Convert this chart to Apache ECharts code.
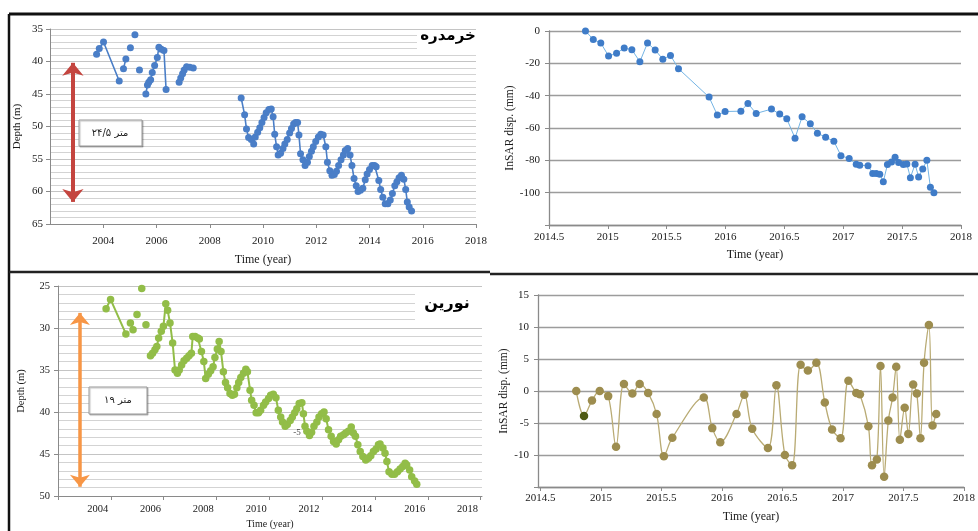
<!DOCTYPE html>
<html><head><meta charset="utf-8">
<script src="https://cdn.jsdelivr.net/npm/echarts@6/dist/echarts.min.js"></script>
<style>html,body{margin:0;padding:0;background:#fff}#c{width:978px;height:531px}</style>
</head><body><div id="c"></div>
<script>
// ---- Khorramdareh well depth (m); null = gap in record
const khTime = [2003.75,2003.85,2004.01,2004.6,null,2004.76,2004.85,null,2005.02,null,2005.19,null,2005.36,null,
 2005.6,2005.66,2005.71,2005.78,2005.84,2005.93,2006.03,2006.09,2006.18,2006.28,2006.36,null,
 2006.85,2006.91,2006.98,2007.04,2007.13,2007.25,2007.38,null,
 2009.18,2009.31,2009.38,2009.46,2009.56,2009.65,2009.71,2009.80,2009.88,2009.96,2010.04,2010.12,2010.22,2010.31,2010.38,
 2010.44,2010.51,2010.57,2010.66,2010.75,2010.82,2010.91,2011.00,2011.07,2011.15,2011.22,2011.30,2011.35,2011.41,2011.50,
 2011.58,2011.67,2011.74,2011.82,2011.89,2011.98,2012.08,2012.17,2012.26,2012.36,2012.42,2012.51,2012.59,2012.68,2012.76,
 2012.84,2012.93,2013.02,2013.09,2013.18,2013.27,2013.34,2013.42,2013.50,2013.57,2013.66,2013.75,2013.84,2013.91,2014.00,
 2014.10,2014.19,2014.25,2014.35,2014.42,2014.50,2014.59,2014.69,2014.78,2014.86,2014.95,2015.03,2015.11,2015.20,2015.29,
 2015.36,2015.42,2015.49,2015.58];
const khDepth = [38.9,38.0,37.0,43.0,null,41.1,39.6,null,37.9,null,35.9,null,41.3,null,
 45.0,43.6,43.2,42.8,41.7,40.6,39.4,37.8,38.1,38.3,44.3,null,
 43.2,42.55,41.9,41.3,40.8,40.9,41.0,null,
 45.6,48.2,50.4,51.7,52.0,52.7,51.6,50.9,50.2,49.4,48.6,47.9,47.4,47.3,48.5,
 51.2,53.1,54.4,54.1,53.4,52.7,52.0,51.0,50.3,49.6,49.4,49.4,51.3,54.2,55.1,
 56.0,55.5,54.6,53.8,53.1,52.3,51.6,51.2,51.3,53.1,55.5,56.8,57.5,57.4,56.9,
 56.0,55.1,54.4,53.7,53.4,54.4,56.0,58.0,59.1,60.0,59.8,59.5,58.2,57.3,56.6,
 56.0,56.0,56.2,58.3,59.7,60.9,61.9,61.9,61.3,60.3,59.1,58.5,57.9,57.5,58.1,
 59.7,61.6,62.4,63.0];

// ---- Khorramdareh InSAR displacement (mm)
const khInsarTime = [2014.81,2014.876,2014.94,2015.006,2015.074,2015.139,2015.204,2015.272,2015.337,2015.402,2015.467,2015.532,2015.60,
 2015.86,2015.93,2015.996,2016.13,2016.19,2016.26,2016.39,2016.46,2016.52,2016.59,2016.65,2016.72,2016.78,2016.85,2016.92,
 2016.98,2017.05,2017.11,2017.14,2017.21,2017.25,2017.28,2017.31,2017.34,2017.375,2017.41,2017.44,2017.47,2017.51,2017.54,
 2017.57,2017.61,2017.64,2017.675,2017.71,2017.74,2017.77];
const khInsar = [0,-5.2,-7.4,-15.5,-13.8,-10.5,-11.6,-19,-7.4,-11.8,-17.4,-15.1,-23.3,
 -40.9,-52,-49.8,-49.6,-44.8,-51,-48.3,-51.4,-54.3,-66.3,-53.1,-57.4,-63.2,-65.7,-68.2,
 -77.1,-78.9,-82.4,-83,-83.3,-88.2,-88.2,-88.6,-93.2,-82.6,-81,-78.1,-81.4,-82.6,-82.2,
 -90.7,-82.4,-90.3,-85.3,-80,-96.7,-100];

// ---- Noorin well depth (m)
const noTime = [2004.32,2004.49,2005.07,null,2005.24,2005.34,null,2005.49,null,2005.67,null,2005.83,null,
 2006.00,2006.08,2006.17,2006.24,2006.31,2006.41,2006.49,2006.58,2006.65,2006.74,2006.84,2006.93,2007.02,2007.09,2007.18,
 2007.27,2007.37,2007.46,2007.55,2007.60,2007.69,2007.79,2007.85,2007.93,2008.02,2008.09,2008.19,2008.28,2008.37,2008.44,
 2008.53,2008.60,2008.67,2008.76,2008.84,2008.92,2009.01,2009.10,2009.18,2009.27,2009.34,2009.42,2009.52,2009.61,2009.67,
 2009.77,2009.83,2009.92,2010.00,2010.09,2010.17,2010.28,2010.36,2010.47,2010.55,2010.65,2010.75,2010.84,2010.93,2011.00,
 2011.10,2011.18,2011.29,2011.37,2011.46,2011.54,2011.63,2011.73,2011.79,2011.85,2011.92,2012.02,2012.10,2012.19,2012.30,
 2012.38,2012.48,2012.57,2012.65,2012.74,2012.84,2012.93,2013.03,2013.12,2013.20,2013.31,2013.39,2013.49,2013.60,2013.68,
 2013.76,2013.85,2013.94,2014.04,2014.15,2014.25,2014.34,2014.44,2014.54,2014.63,2014.69,2014.80,2014.88,2014.95,2015.03,
 2015.14,2015.24,2015.35,2015.45,2015.55,2015.64,2015.70,2015.81,2015.89,2016.00,2016.08];
const noDepth = [27.7,26.6,30.7,null,29.4,30.2,null,28.4,null,25.3,null,29.6,null,
 33.3,33.0,32.6,32.2,31.2,30.4,29.8,27.1,27.9,29.4,31.8,35.0,35.4,35.0,34.4,
 33.9,33.6,33.3,33.0,31.0,31.0,31.2,31.3,32.8,34.0,36.0,35.5,35.1,34.6,33.5,
 32.5,31.6,32.8,35.2,36.5,37.1,37.8,38.0,37.9,37.1,36.5,35.9,35.4,34.9,35.2,
 37.4,38.6,39.2,40.1,40.1,39.8,39.2,38.8,38.4,38.0,37.9,38.3,39.8,40.6,41.2,
 41.7,41.5,41.0,40.6,40.1,39.6,39.0,38.9,40.2,41.7,42.3,42.8,42.4,41.7,41.2,
 40.6,40.2,40.0,40.8,42.1,42.9,43.5,43.8,43.3,42.9,42.7,42.5,42.3,41.8,42.5,
 42.9,43.9,44.7,45.3,45.7,45.5,45.2,44.7,44.4,43.9,43.8,44.3,44.9,45.9,47.1,
 47.4,47.4,47.1,46.8,46.5,46.1,46.3,46.9,47.7,48.2,48.6];

// ---- Noorin InSAR displacement (mm)
const noInsarTime = [2014.796,2014.86,2014.926,2014.99,2015.06,2015.125,2015.19,2015.26,2015.32,2015.39,2015.46,2015.52,2015.59,
 2015.85,2015.92,2015.986,2016.12,2016.185,2016.25,2016.38,2016.45,2016.52,2016.58,2016.65,2016.71,2016.78,2016.85,2016.91,
 2016.98,2017.045,2017.11,2017.14,2017.21,2017.24,2017.28,2017.31,2017.34,2017.375,2017.41,2017.44,2017.47,2017.51,2017.54,
 2017.58,2017.61,2017.64,2017.67,2017.71,2017.74,2017.77];
const noInsar = [0,-3.9,-1.5,0,-0.8,-8.7,1.1,-0.4,1.1,-0.3,-3.6,-10.2,-7.3,
 -1,-5.8,-8,-3.6,-0.6,-5.9,-8.9,0.9,-10,-11.6,4.1,3.2,4.4,-1.8,-6,
 -7.4,1.6,-0.3,-0.5,-5.5,-11.6,-10.7,3.9,-13.4,-4.6,-1,3.8,-7.6,-2.6,-6.7,
 1,-0.4,-7.4,4.4,10.3,-5.4,-3.6];

// ---- axis ticks / labels
const yearTicks = [2004,2006,2008,2010,2012,2014,2016,2018];
const noorinTickPos = [2002.5,2004.5,2006.5,2008.5,2010.5,2012.5,2014.5,2016.5,2018.5];
const insarYearTicks = [2014.5,2015,2015.5,2016,2016.5,2017,2017.5,2018];
const titleKh = 'خرمدره';
const titleNo = 'نورین';
const boxKh = '۲۴/۵ متر';
const boxNo = '۱۹ متر';
const axisTitleDepth = 'Depth (m)';
const axisTitleTime = 'Time (year)';
const axisTitleInsar = 'InSAR disp. (mm)';

function pairs(ts, vs){ return ts.map((t,i)=> (t===null||vs[i]===null) ? ['-','-'] : [t, vs[i]]); }

const SERIF = 'Liberation Serif';
const AX = '#8a8a8a';
const lbl = (size, margin, extra)=>Object.assign({fontFamily:SERIF, fontSize:size, color:'#1a1a1a', margin:margin}, extra||{});
const nm = (size)=>({fontFamily:SERIF, fontSize:size, color:'#1a1a1a'});

const chart = echarts.init(document.getElementById('c'), null, {renderer:'canvas'});
const option = {
  animation:false,
  backgroundColor:'#ffffff',
  grid:[
    {left:50, top:29, width:426, height:195},
    {left:549, top:31, width:412, height:194},
    {left:58, top:286, width:424, height:210},
    {left:538, top:295, width:432, height:192}
  ],
  xAxis:[
    {gridIndex:0, type:'value', min:2002, max:2018, interval:2,
     axisLine:{onZero:false, lineStyle:{color:AX}}, axisTick:{length:4, lineStyle:{color:AX}}, splitLine:{show:false},
     axisLabel:lbl(11,12,{showMinLabel:false, formatter:v=>String(v)}),
     name:axisTitleTime, nameLocation:'middle', nameGap:30, nameTextStyle:nm(12)},
    {gridIndex:1, type:'value', min:2014.5, max:2018, interval:0.5,
     axisLine:{onZero:false, lineStyle:{color:AX, width:1.3}}, axisTick:{length:4, lineStyle:{color:AX}}, splitLine:{show:false},
     axisLabel:lbl(11,7,{formatter:v=>String(v)}),
     name:axisTitleTime, nameLocation:'middle', nameGap:24, nameTextStyle:nm(12)},
    {gridIndex:2, type:'value', min:2002.5, max:2018.55,
     axisLine:{onZero:false, lineStyle:{color:AX}}, axisTick:{length:4, customValues:noorinTickPos, lineStyle:{color:AX}}, splitLine:{show:false},
     axisLabel:lbl(10.5,8,{customValues:yearTicks, formatter:v=>String(v)}),
     name:axisTitleTime, nameLocation:'middle', nameGap:23, nameTextStyle:nm(10)},
    {gridIndex:3, type:'value', min:2014.48, max:2018,
     axisLine:{onZero:false, lineStyle:{color:AX, width:1.3}}, axisTick:{length:4, customValues:insarYearTicks, lineStyle:{color:AX}}, splitLine:{show:false},
     axisLabel:lbl(11,6,{customValues:insarYearTicks, formatter:v=>String(v)}),
     name:axisTitleTime, nameLocation:'middle', nameGap:24, nameTextStyle:nm(12)}
  ],
  yAxis:[
    {gridIndex:0, type:'value', inverse:true, min:35, max:65, interval:5,
     axisLine:{show:true, lineStyle:{color:AX}}, axisTick:{show:true, length:4, lineStyle:{color:AX}},
     splitLine:{show:true, lineStyle:{color:'#c4c4c4'}}, minorTick:{show:false, splitNumber:5},
     minorSplitLine:{show:true, lineStyle:{color:'#d3d3d3'}},
     axisLabel:lbl(11,7),
     name:axisTitleDepth, nameLocation:'middle', nameGap:27, nameRotate:90, nameTextStyle:nm(11)},
    {gridIndex:1, type:'value', min:-120, max:0, interval:20,
     axisLine:{show:true, lineStyle:{color:AX, width:1.3}}, axisTick:{show:true, length:4, lineStyle:{color:AX}},
     splitLine:{show:true, lineStyle:{color:'#9c9c9c', width:1.3}},
     axisLabel:lbl(11,9,{formatter:v=> v===-120 ? '' : String(v)}),
     name:axisTitleInsar, nameLocation:'middle', nameGap:33, nameRotate:90, nameTextStyle:nm(11.5)},
    {gridIndex:2, type:'value', inverse:true, min:25, max:50, interval:5,
     axisLine:{show:true, lineStyle:{color:AX}}, axisTick:{show:true, length:4, lineStyle:{color:AX}},
     splitLine:{show:true, lineStyle:{color:'#c4c4c4'}}, minorTick:{show:false, splitNumber:5},
     minorSplitLine:{show:true, lineStyle:{color:'#d3d3d3'}},
     axisLabel:lbl(10.5,8),
     name:axisTitleDepth, nameLocation:'middle', nameGap:31, nameRotate:90, nameTextStyle:nm(10.5)},
    {gridIndex:3, type:'value', min:-15, max:15, interval:5,
     axisLine:{show:true, lineStyle:{color:AX, width:1.3}}, axisTick:{show:true, length:4, lineStyle:{color:AX}},
     splitLine:{show:true, lineStyle:{color:'#9c9c9c', width:1.3}},
     axisLabel:lbl(11,9,{formatter:v=> v===-15 ? '' : String(v)}),
     name:axisTitleInsar, nameLocation:'middle', nameGap:24, nameRotate:90, nameTextStyle:nm(11.5)}
  ],
  series:[
    {type:'line', xAxisIndex:0, yAxisIndex:0, data:pairs(khTime, khDepth), connectNulls:false,
     symbol:'circle', symbolSize:7, showSymbol:true, color:'#4a7ec7',
     lineStyle:{color:'#4a7ec7', width:1.6}, itemStyle:{color:'#4a7ec7'},
     markLine:{silent:true, symbol:['arrow','arrow'], symbolSize:[16,13], label:{show:false},
       lineStyle:{color:'#c4453f', width:4, type:'solid'},
       data:[[{coord:[2002.86,40.2]},{coord:[2002.86,61.6]}]]}},
    {type:'line', xAxisIndex:1, yAxisIndex:1, data:pairs(khInsarTime, khInsar),
     symbol:'circle', symbolSize:7, showSymbol:true,
     lineStyle:{color:'#74b4e4', width:1}, itemStyle:{color:'#3f7cc8'}},
    {type:'line', xAxisIndex:2, yAxisIndex:2, data:pairs(noTime, noDepth), connectNulls:false,
     symbol:'circle', symbolSize:7.5, showSymbol:true,
     lineStyle:{color:'#92bd48', width:2}, itemStyle:{color:'#92bd48'},
     markLine:{silent:true, symbol:['arrow','arrow'], symbolSize:[15,12], label:{show:false},
       lineStyle:{color:'#f79646', width:3.5, type:'solid'},
       data:[[{coord:[2003.33,28.2]},{coord:[2003.33,48.9]}]]}},
    {type:'line', xAxisIndex:3, yAxisIndex:3, smooth:0.35,
     data:pairs(noInsarTime, noInsar).map((p,i)=> i===1 ? {value:p, itemStyle:{color:'#4f5a12'}} : p),
     symbol:'circle', symbolSize:8.5, showSymbol:true,
     lineStyle:{color:'#b9ab74', width:1.3}, itemStyle:{color:'#9d8d4f'}}
  ],
  graphic:[
    // panel frame lines
    {type:'line', shape:{x1:9,y1:14,x2:978,y2:14}, style:{stroke:'#111', lineWidth:3}, z:100},
    {type:'line', shape:{x1:9,y1:14,x2:9,y2:531}, style:{stroke:'#111', lineWidth:2.5}, z:100},
    {type:'line', shape:{x1:9,y1:272,x2:490,y2:272}, style:{stroke:'#222', lineWidth:2.5}, z:100},
    {type:'line', shape:{x1:490,y1:274,x2:978,y2:274}, style:{stroke:'#222', lineWidth:2.5}, z:100},
    // title boxes
    {type:'rect', shape:{x:417,y:31,width:61,height:21}, style:{fill:'#fff'}, z:50},
    {type:'text', x:448, y:36, style:{text:titleKh, font:'bold 15px "DejaVu Sans"', fill:'#000', align:'center', verticalAlign:'middle'}, z:51},
    {type:'rect', shape:{x:415,y:291,width:67,height:30}, style:{fill:'#fff'}, z:50},
    {type:'text', x:447, y:304, style:{text:titleNo, font:'bold 16px "DejaVu Sans"', fill:'#000', align:'center', verticalAlign:'middle'}, z:51},
    // annotation boxes
    {type:'rect', shape:{x:79,y:120,width:63,height:26}, style:{fill:'#fff', stroke:'#9a9a9a', lineWidth:1, shadowColor:'rgba(0,0,0,0.25)', shadowOffsetX:1, shadowOffsetY:1, shadowBlur:1}, z:50},
    {type:'text', x:110, y:133, style:{text:boxKh, font:'10px "DejaVu Sans"', fill:'#222', align:'center', verticalAlign:'middle'}, z:51},
    {type:'rect', shape:{x:89,y:387,width:58,height:27}, style:{fill:'#fff', stroke:'#9a9a9a', lineWidth:1, shadowColor:'rgba(0,0,0,0.25)', shadowOffsetX:1, shadowOffsetY:1, shadowBlur:1}, z:50},
    {type:'text', x:118, y:400, style:{text:boxNo, font:'10px "DejaVu Sans"', fill:'#222', align:'center', verticalAlign:'middle'}, z:51},
    {type:'text', x:297, y:433, style:{text:'-5', font:'9px "Liberation Serif"', fill:'#444', align:'center', verticalAlign:'middle'}, z:51}
  ]
};
chart.setOption(option);
</script></body></html>
